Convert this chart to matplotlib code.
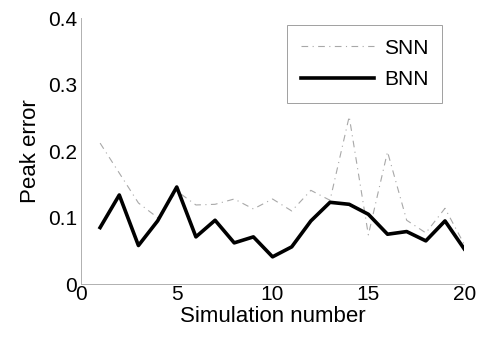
import matplotlib
matplotlib.use('Agg')
from matplotlib import pyplot as plt

plt.rcParams['font.family'] = ['Liberation Sans', 'DejaVu Sans']

sim = list(range(1, 21))
snn = [0.212, 0.167, 0.122, 0.100, 0.140, 0.119, 0.120, 0.128, 0.113, 0.128,
       0.110, 0.141, 0.126, 0.252, 0.074, 0.199, 0.096, 0.077, 0.114, 0.060]
bnn = [0.085, 0.134, 0.058, 0.095, 0.146, 0.071, 0.096, 0.062, 0.071, 0.041,
       0.056, 0.095, 0.123, 0.120, 0.105, 0.075, 0.079, 0.065, 0.095, 0.053]

fig = plt.figure(figsize=(4.79, 3.49), dpi=100)
ax = fig.add_axes([0.169, 0.186, 0.800, 0.762])

ax.plot(sim, snn, linestyle=(0, (6, 4, 1, 4)), color='#a8a8a8', linewidth=0.8, label='SNN')
ax.plot(sim, bnn, '-', color='black', linewidth=2.6, label='BNN')

ax.set_xlim(0, 20)
ax.set_ylim(0, 0.4)
ax.set_xticks([0, 5, 10, 15, 20])
ax.set_yticks([0, 0.1, 0.2, 0.3, 0.4])
ax.set_yticklabels(['0', '0.1', '0.2', '0.3', '0.4'])
ax.tick_params(length=0, labelsize=15)
ax.tick_params(axis='x', pad=1)
ax.tick_params(axis='y', pad=3)
for side in ['top', 'right', 'bottom', 'left']:
    ax.spines[side].set_color('#b0b0b0')
    ax.spines[side].set_linewidth(0.7)
ax.spines['top'].set_visible(False)
ax.spines['right'].set_visible(False)

leg = ax.legend(loc='upper right', bbox_to_anchor=(0.943, 0.974), fontsize=15,
                fancybox=False, handlelength=3.5, borderpad=0.65, labelspacing=0.6,
                handletextpad=0.5, borderaxespad=0, framealpha=1)
leg.get_frame().set_edgecolor('#a0a0a0')
leg.get_frame().set_linewidth(0.7)

ax.set_xlabel('Simulation number', fontsize=16, labelpad=1)
ax.set_ylabel('Peak error', fontsize=16, labelpad=5)

fig.savefig('out.png', dpi=100)
